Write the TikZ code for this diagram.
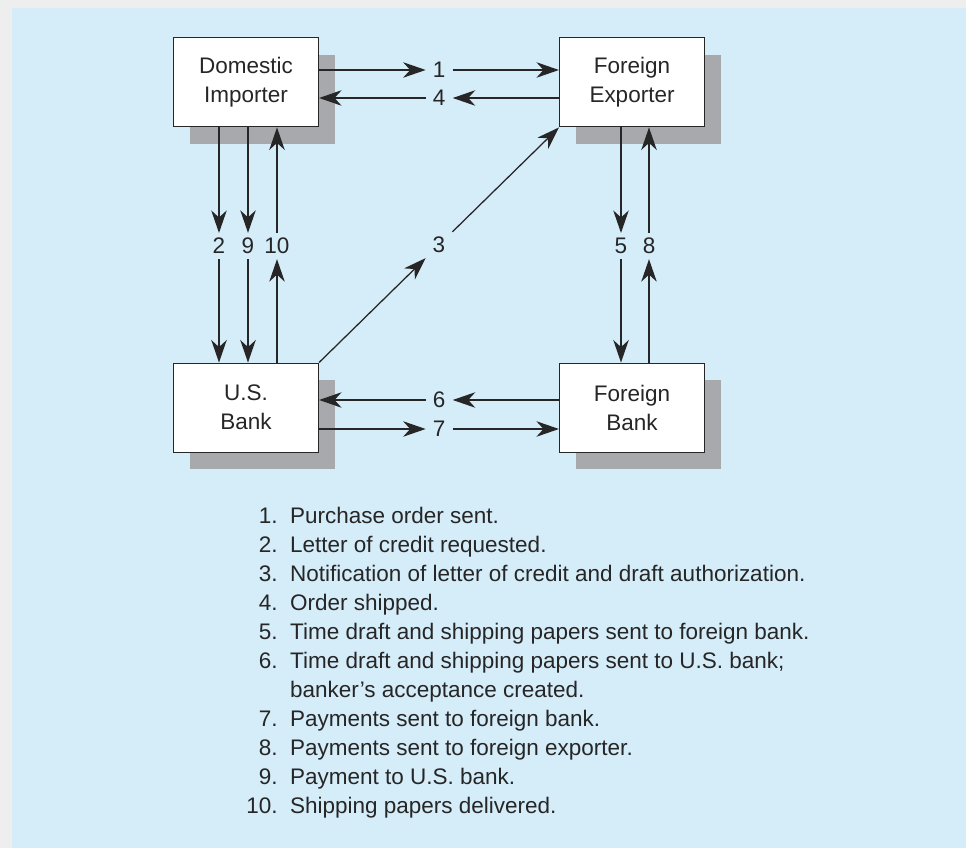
\documentclass[tikz,border=0pt]{standalone}
\usepackage{fontspec}
\setmainfont{Liberation Sans}
\definecolor{PanelBlue}{HTML}{D5ECF9}
\definecolor{FrameGray}{HTML}{EEEEEE}
\definecolor{ShadowGray}{HTML}{A8A9AD}
\definecolor{Ink}{HTML}{262626}
\usetikzlibrary{arrows.meta, positioning, calc, shadows}
\tikzset{
  box/.style={
    rectangle, draw=Ink, fill=white, line width=0.8pt,
    minimum width=3.625cm, minimum height=2.225cm,
    align=center, text=Ink, font=\fontsize{16pt}{20.6pt}\selectfont,
    drop shadow={shadow xshift=0.42cm, shadow yshift=-0.42cm,
      fill=ShadowGray, opacity=1}
  },
  num/.style={inner xsep=5pt, inner ysep=3.5pt, text=Ink,
    font=\fontsize{16pt}{20.6pt}\selectfont},
  arr/.style={-{Stealth[length=16pt, width=11pt, inset=5pt]},
    line width=0.9pt, draw=Ink},
}

\begin{document}
\begin{tikzpicture}

\useasboundingbox (0,0) rectangle (24.15,-21.2);
\fill[FrameGray] (0,0) rectangle (24.15,-21.2);
\fill[PanelBlue] (0.3,-0.2) rectangle (24.15,-21.2);

\node[box] at (6.15,-2.06) (imp) {Domestic\\Importer};
\node[box] at (15.8,-2.06) (exp) {Foreign\\Exporter};
\node[box] at (6.15,-10.19) (usb) {U.S.\\Bank};
\node[box] at (15.8,-10.19) (fbk) {Foreign\\Bank};

\node[num] at (10.98,-1.75) (n1) {1};
\node[num] at (10.98,-2.45) (n4) {4};
\node[num] at (10.98,-10.0) (n6) {6};
\node[num] at (10.98,-10.725) (n7) {7};
\node[num] at (5.475,-6.15) (n2) {2};
\node[num] at (6.2,-6.15) (n9) {9};
\node[num] at (6.925,-6.15) (n10) {10};
\node[num] at (15.525,-6.15) (n5) {5};
\node[num] at (16.225,-6.15) (n8) {8};
\node[num] at ($(usb.north east)!0.5!(exp.south west)$) (n3) {3};

\draw[arr] (imp.east |- n1) -- (n1);
\draw[arr] (n1) -- (exp.west |- n1);
\draw[arr] (exp.west |- n4) -- (n4);
\draw[arr] (n4) -- (imp.east |- n4);

\draw[arr] (fbk.west |- n6) -- (n6);
\draw[arr] (n6) -- (usb.east |- n6);
\draw[arr] (usb.east |- n7) -- (n7);
\draw[arr] (n7) -- (fbk.west |- n7);

\draw[arr] (imp.south -| n2) -- (n2);
\draw[arr] (n2) -- (usb.north -| n2);
\draw[arr] (imp.south -| n9) -- (n9);
\draw[arr] (n9) -- (usb.north -| n9);
\draw[arr] (usb.north -| n10) -- (n10);
\draw[arr] (n10) -- (imp.south -| n10);

\draw[arr] (exp.south -| n5) -- (n5);
\draw[arr] (n5) -- (fbk.north -| n5);
\draw[arr] (fbk.north -| n8) -- (n8);
\draw[arr] (n8) -- (exp.south -| n8);

\draw[arr] (usb.north east) -- (n3);
\draw[arr] (n3) -- (exp.south west);

\node[anchor=base west, inner sep=0pt, text=Ink,
  font=\fontsize{16pt}{20.6pt}\selectfont] at (6.15,-13.1) (notes) {%
  \begin{tabular}[t]{@{}r@{\hspace{9pt}}l@{}}
    1. & Purchase order sent.\\
    2. & Letter of credit requested.\\
    3. & Notification of letter of credit and draft authorization.\\
    4. & Order shipped.\\
    5. & Time draft and shipping papers sent to foreign bank.\\
    6. & Time draft and shipping papers sent to U.S. bank;\\
       & banker’s acceptance created.\\
    7. & Payments sent to foreign bank.\\
    8. & Payments sent to foreign exporter.\\
    9. & Payment to U.S. bank.\\
    10. & Shipping papers delivered.
  \end{tabular}};

\end{tikzpicture}
\end{document}
